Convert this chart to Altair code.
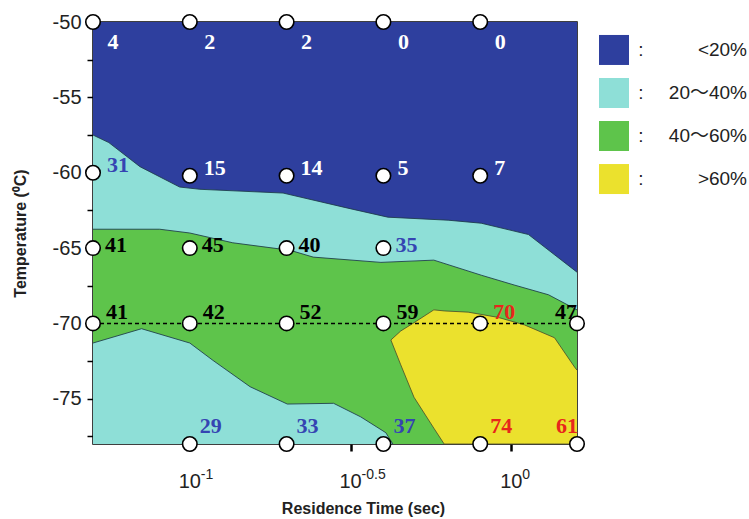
import altair as alt
import pandas as pd

# ---------------- sampled conditions ----------------
r50_t = [0.05, 0.1, 0.2, 0.4, 0.8]
r50_T = [-50, -50, -50, -50, -50]
r50_v = [4, 2, 2, 0, 0]

r60_t = [0.05, 0.1, 0.2, 0.4, 0.8]
r60_T = [-60, -60.2, -60.2, -60.2, -60.2]
r60_v = [31, 15, 14, 5, 7]

r65_t = [0.05, 0.1, 0.2, 0.4]
r65_T = [-65, -65, -65, -65]
r65_v = [41, 45, 40, 35]

r70_t = [0.05, 0.1, 0.2, 0.4, 0.8, 1.6]
r70_T = [-70, -70, -70, -70, -70, -70]
r70_v = [41, 42, 52, 59, 70, 47]

r78_t = [0.1, 0.2, 0.4, 0.8, 1.6]
r78_T = [-78, -78, -78, -78, -78]
r78_v = [29, 33, 37, 74, 61]

# ---------------- contour boundaries ----------------
# 20 % line (upper edge of the 20-40 band)
c20_t = [0.05, 0.056, 0.07, 0.093, 0.1075, 0.195, 0.31, 0.413, 0.636, 0.806, 1.13, 1.6]
c20_T = [-57.5, -58.0, -59.6, -60.95, -61.1, -61.35, -62.35, -62.95, -63.15, -63.35, -64.1, -66.6]

# 40 % line (upper edge of the 40-60 band)
c40_t = [0.05, 0.0806, 0.1, 0.136, 0.2054, 0.242, 0.393, 0.574, 0.806, 1.02, 1.305, 1.6]
c40_T = [-63.75, -63.75, -64.0, -64.65, -65.15, -65.6, -65.95, -65.8, -66.8, -67.45, -68.1, -69.1]

# 40 % line closing the low-temperature 20-40 pocket
c40b_t = [0.05, 0.0708, 0.1, 0.118, 0.154, 0.201, 0.28, 0.34, 0.407, 0.428]
c40b_T = [-71.3, -70.35, -71.3, -72.45, -74.2, -75.35, -75.3, -76.2, -77.25, -78.0]

# 60 % region
c60_t = [0.422, 0.453, 0.498, 0.574, 0.618, 0.734, 0.91, 1.099, 1.362, 1.573, 1.6]
c60_hi = [-71.1, -70.5, -69.95, -69.1, -69.17, -69.25, -69.6, -70.1, -70.95, -72.9, -73.1]
c60_lo = [-71.1, -72.75, -74.9, -76.95, -78.0, -78.0, -78.0, -78.0, -78.0, -78.0, -78.0]

# ---------------- legend / styling lists ----------------
bands = ["<20%", "20～40%", "40～60%", ">60%"]
band_fill = ["#2e3f9e", "#8edfd7", "#5ec44b", "#ebe12d"]
band_text = ["#ffffff", "#3544b2", "#000000", "#e8261b"]

tick_vals = [0.1, 0.3162, 1.0]
tick_exps = ["-1", "-0.5", "0"]
y_ticks = [-77.5, -75, -72.5, -70, -67.5, -65, -62.5, -60, -57.5, -55, -52.5, -50]

T_MIN, T_MAX = -78, -50
T_LO, T_HI = 0.05, 1.6

W, H = 484, 422
SANS = "Liberation Sans, Arial, Noto Sans CJK JP"
SERIF = "Liberation Serif, Times New Roman"

pts = pd.DataFrame({
    "t": r50_t + r60_t + r65_t + r70_t + r78_t,
    "T": r50_T + r60_T + r65_T + r70_T + r78_T,
    "v": r50_v + r60_v + r65_v + r70_v + r78_v,
    "row": [-50] * len(r50_t) + [-60] * len(r60_t) + [-65] * len(r65_t)
           + [-70] * len(r70_t) + [-78] * len(r78_t),
})

xs = alt.Scale(type="log", domain=[T_LO, T_HI])
ys = alt.Scale(domain=[T_MIN, T_MAX])

x_axis = alt.Axis(
    values=tick_vals, labels=False, ticks=True, tickSize=7, tickWidth=2.5,
    tickColor="black", domain=False, grid=False,
    title="Residence Time (sec)", titleFont=SANS, titleFontSize=16,
    titleFontWeight="bold", titleColor="#222", titleX=270, titleY=56,
    titleBaseline="top",
)
y_axis = alt.Axis(
    values=y_ticks,
    labelExpr="datum.value % 5 == 0 ? replace(datum.label, '\u2212', '-') : ''",
    tickSize=6, tickWidth=1.5, tickColor="black", domain=False, grid=False,
    labelFont=SANS, labelFontSize=20, labelColor="#222", labelPadding=6,
    title="Temperature (⁰C)", titleFont=SANS, titleFontSize=16,
    titleFontWeight="bold", titleColor="#222", titlePadding=24,
)


def X():
    return alt.X("t:Q", scale=xs, axis=x_axis)


def Y(field="T"):
    return alt.Y(f"{field}:Q", scale=ys, axis=y_axis)


# background: whole region below 20 %
bg = alt.Chart(pd.DataFrame({"t": [T_LO, T_HI], "T": [T_MAX, T_MAX]})).mark_area(
    color=band_fill[0], opacity=1
).encode(x=X(), y=Y(), y2=alt.datum(T_MIN))


def band_area(ts, Ts, color):
    df = pd.DataFrame({"t": ts, "T": Ts})
    return alt.Chart(df).mark_area(color=color, opacity=1).encode(
        x=X(), y=Y(), y2=alt.datum(T_MIN)
    )


def edge(ts, Ts):
    df = pd.DataFrame({"t": ts, "T": Ts})
    return alt.Chart(df).mark_line(color="#1c3a48", strokeWidth=1, opacity=0.85).encode(
        x=X(), y=Y()
    )


a20 = band_area(c20_t, c20_T, band_fill[1])
a40 = band_area(c40_t, c40_T, band_fill[2])
a40b = band_area(c40b_t, c40b_T, band_fill[1])

c60_df = pd.DataFrame({"t": c60_t, "hi": c60_hi, "lo": c60_lo})
a60 = alt.Chart(c60_df).mark_area(color=band_fill[3], opacity=1).encode(
    x=X(), y=Y("hi"), y2="lo:Q"
)
c60_edge_df = pd.DataFrame({
    "t": c60_t[::-1][1:] + c60_t,
    "T": c60_lo[::-1][1:] + c60_hi,
    "o": list(range(2 * len(c60_t) - 1)),
})
e60 = alt.Chart(c60_edge_df).mark_line(color="#4a4a2a", strokeWidth=1, opacity=0.8).encode(
    x=X(), y=Y(), order="o:Q"
)

dash = alt.Chart(pd.DataFrame({"t": [T_LO, T_HI], "T": [-70, -70]})).mark_line(
    color="black", strokeWidth=1.6, strokeDash=[4, 3]
).encode(x=X(), y=Y())

dots = alt.Chart(pts).mark_point(
    shape="circle", filled=True, fill="white", stroke="black",
    strokeWidth=1.6, size=210, opacity=1
).encode(x=X(), y=Y())

band_expr = ("datum.v < 20 ? '<20%' : datum.v < 40 ? '20～40%' : "
             "datum.v < 60 ? '40～60%' : '>60%'")


def labels(cond, align, dx, dy):
    return alt.Chart(pts).transform_filter(cond).transform_calculate(
        band=band_expr
    ).mark_text(
        font=SERIF, fontSize=22, fontWeight="bold", align=align,
        baseline="middle", dx=dx, dy=dy
    ).encode(
        x=X(), y=Y(), text="v:Q",
        color=alt.Color("band:N", scale=alt.Scale(domain=bands, range=band_text), legend=None),
    )


lab = [
    labels("datum.row == -50", "center", 20, 20),
    labels("datum.row == -60", "left", 14, -8),
    labels("datum.row == -65", "left", 12, -3),
    labels("datum.row == -70 && datum.t < 1.6", "left", 13, -11),
    labels("datum.row == -78 && datum.t < 1.6", "left", 10, -18),
    labels("datum.row == -70 && datum.t >= 1.6", "right", 0, -11),
    labels("datum.row == -78 && datum.t >= 1.6", "right", 1, -18),
]

tick_df = pd.DataFrame({"t": tick_vals, "e": tick_exps, "T": [T_MIN] * 3, "b": ["10"] * 3})
tick_base = alt.Chart(tick_df).mark_text(
    font=SANS, fontSize=20, color="#222", align="center", baseline="alphabetic", dy=44
).encode(x=X(), y=Y(), text="b:N")
tick_sup = alt.Chart(tick_df).mark_text(
    font=SANS, fontSize=14, color="#222", align="left", baseline="alphabetic", dx=11, dy=35
).encode(x=X(), y=Y(), text="e:N")

main = alt.layer(
    bg, a20, a40, a40b, a60, edge(c20_t, c20_T), edge(c40_t, c40_T),
    edge(c40b_t, c40b_T), e60, dash, dots, tick_base, tick_sup, *lab
).properties(width=W, height=H, view=alt.ViewBackground(stroke="black", strokeWidth=1.5))

# ---------------- legend ----------------
leg_df = pd.DataFrame({"band": bands, "colon": [":"] * len(bands)})
leg_y = alt.Y("band:N", sort=bands, scale=alt.Scale(type="point", padding=0.65), axis=None)
leg_sq = alt.Chart(leg_df).mark_square(size=900, opacity=1).encode(
    x=alt.value(24), y=leg_y,
    color=alt.Color("band:N", scale=alt.Scale(domain=bands, range=band_fill), legend=None),
)
leg_colon = alt.Chart(leg_df).mark_text(
    font=SANS, fontSize=19, color="#222", align="center", baseline="middle"
).encode(x=alt.value(51), y=leg_y, text="colon:N")
leg_txt = alt.Chart(leg_df).mark_text(
    font=SANS, fontSize=19, color="#222", align="right", baseline="middle"
).encode(x=alt.value(157), y=leg_y, text="band:N")
legend = alt.layer(leg_sq, leg_colon, leg_txt).properties(
    width=159, height=185, view=alt.ViewBackground(stroke=None)
)

chart = alt.hconcat(main, legend, spacing=13, bounds="flush").resolve_scale(
    color="independent"
).properties(
    padding={"left": 11, "top": 10, "right": 0, "bottom": 0},
    background="white",
)

chart.save("out.html", embed_options={"renderer": "svg", "actions": False})
